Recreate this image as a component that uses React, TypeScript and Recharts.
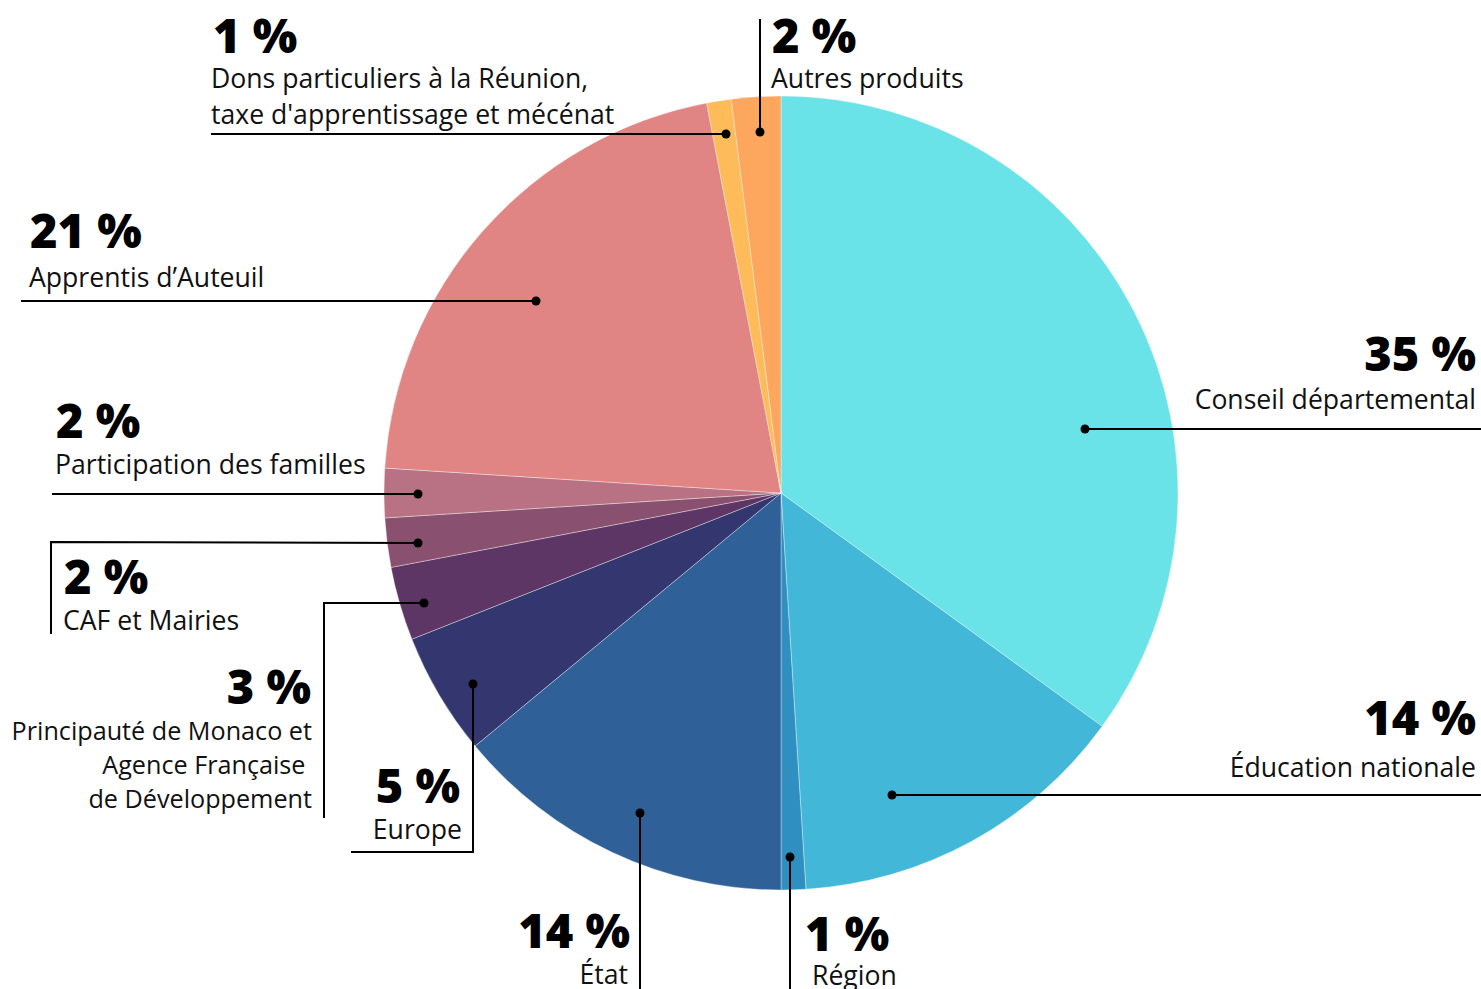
import React from 'react';
import { PieChart, Pie, Cell } from 'recharts';

// Répartition des ressources (%)
const sources = [
  'Conseil départemental',
  'Éducation nationale',
  'Région',
  'État',
  'Europe',
  'Principauté de Monaco et\nAgence Française\u00A0\nde Développement',
  'CAF et Mairies',
  'Participation des familles',
  'Apprentis d’Auteuil',
  "Dons particuliers à la Réunion,\ntaxe d'apprentissage et mécénat",
  'Autres produits',
];
const shares = [35, 14, 1, 14, 5, 3, 2, 2, 21, 1, 2];
const colors = [
  '#6ae3e8', '#43b7d7', '#2e8fc0', '#2f6098', '#33366f', '#5e3666',
  '#8a5070', '#b87283', '#e08484', '#fdbb5a', '#fda65e',
];

const data = sources.map((name, i) => ({ name, value: shares[i] }));

// leader lines + text placement, offsets from the pie centre
type Anno = {
  path: [number, number][];
  anchor: 'start' | 'end';
  pctX: number;
  pctY: number;
  textX: number;
  textY: number;
  gap?: number;
  size?: number;
};

const annos: Anno[] = [
  { path: [[304, -64], [700, -64]], anchor: 'end', pctX: 695, pctY: -122, textX: 695, textY: -84 },
  { path: [[111, 302], [700, 302]], anchor: 'end', pctX: 695, pctY: 242, textX: 695, textY: 284 },
  { path: [[9, 364], [9, 496]], anchor: 'start', pctX: 24, pctY: 458, textX: 31, textY: 492 },
  { path: [[-141, 320], [-141, 496]], anchor: 'end', pctX: -151, pctY: 455, textX: -153, textY: 491 },
  { path: [[-308, 191], [-308, 359], [-430, 359]], anchor: 'end', pctX: -321, pctY: 310, textX: -319, textY: 346 },
  { path: [[-357, 110], [-457, 110], [-457, 325]], anchor: 'end', pctX: -470, pctY: 211, textX: -469, textY: 247, gap: 34, size: 25.2 },
  { path: [[-363, 50], [-730, 49], [-730, 141]], anchor: 'start', pctX: -717, pctY: 101, textX: -718, textY: 137 },
  { path: [[-363, 1], [-729, 1]], anchor: 'start', pctX: -725, pctY: -55, textX: -726, textY: -19 },
  { path: [[-245, -192], [-760, -192]], anchor: 'start', pctX: -751, pctY: -245, textX: -752, textY: -206 },
  { path: [[-55, -359], [-570, -359]], anchor: 'start', pctX: -568, pctY: -440, textX: -570, textY: -405, gap: 36 },
  { path: [[-21, -361], [-21, -474]], anchor: 'start', pctX: -9, pctY: -440, textX: -10, textY: -405 },
];

const FONT = "'Open Sans', sans-serif";

function renderLabel(props: any) {
  const { cx, cy, index, value, name } = props;
  const a = annos[index];
  if (!a) return null;
  const pts = a.path.map(([x, y]) => `${cx + x},${cy + y}`).join(' ');
  const [dx, dy] = a.path[0];
  const lines = String(name).split('\n');
  return (
    <g>
      <polyline points={pts} fill="none" stroke="#000" strokeWidth={2} />
      <circle cx={cx + dx} cy={cy + dy} r={4.5} fill="#000" />
      <text x={cx + a.pctX} y={cy + a.pctY} textAnchor={a.anchor} fontFamily={FONT}
        fontWeight={800} fontSize={47} fill="#000">
        {`${value} %`}
      </text>
      <text textAnchor={a.anchor} fontFamily={FONT} fontSize={a.size ?? 26.6} fill="#111">
        {lines.map((l, k) => (
          <tspan key={k} x={cx + a.textX} y={cy + a.textY + k * (a.gap ?? 34)}>{l}</tspan>
        ))}
      </text>
    </g>
  );
}

export default function App() {
  return (
    <div style={{ position: 'absolute', left: 0, top: 0, width: 1481, height: 989, background: '#fff', overflow: 'hidden' }}>
      <PieChart width={1481} height={989} margin={{ top: 0, right: 0, bottom: 0, left: 0 }}>
        <Pie
          data={data}
          dataKey="value"
          nameKey="name"
          cx={781}
          cy={493}
          outerRadius={397}
          startAngle={90}
          endAngle={-270}
          stroke="#ffffff"
          strokeWidth={0.6}
          strokeOpacity={0.6}
          label={renderLabel}
          labelLine={false}
          isAnimationActive={false}
        >
          {data.map((d, i) => (
            <Cell key={d.name} fill={colors[i]} />
          ))}
        </Pie>
      </PieChart>
    </div>
  );
}
